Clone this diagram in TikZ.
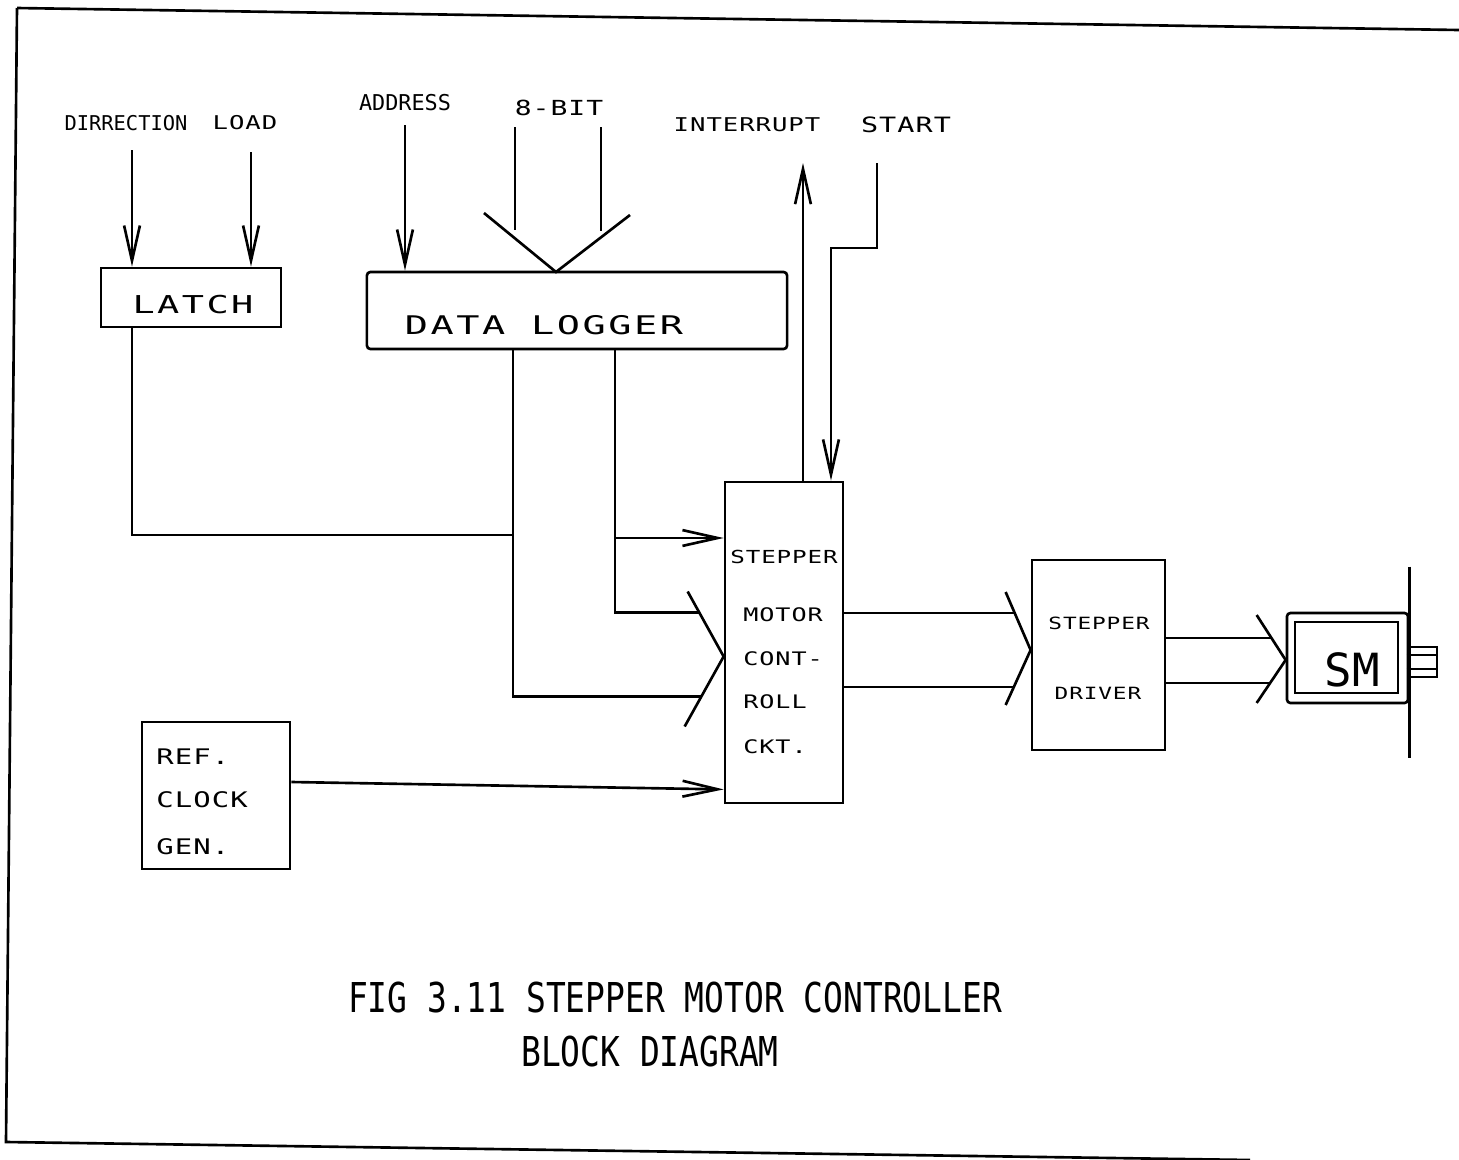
\documentclass[tikz,border=0pt]{standalone}
\usepackage{fontspec}
\usetikzlibrary{arrows.meta,positioning,calc}
\newfontfamily\plotfont{DejaVu Sans Mono}
\newfontfamily\plotwide[FakeStretch=1.35,LetterSpace=5]{DejaVu Sans Mono}
\newfontfamily\plotwider[FakeStretch=1.5,LetterSpace=10]{DejaVu Sans Mono}
\newfontfamily\plotnarrow[FakeStretch=0.8]{DejaVu Sans Mono}

\begin{document}
\begin{tikzpicture}[
    x=0.01cm, y=-0.01cm,
    line width=0.75pt,
    box/.style={draw, inner sep=0pt},
    mono/.style={inner sep=0pt, font=\plotfont\fontsize{#1}{#1}\selectfont},
    spaced/.style={inner sep=0pt, font=\plotwide\fontsize{#1}{#1}\selectfont},
    widespaced/.style={inner sep=0pt, font=\plotwider\fontsize{#1}{#1}\selectfont},
    caption/.style={inner sep=0pt, font=\plotnarrow\fontsize{#1}{#1}\selectfont},
    wire/.style={-{Straight Barb[length=10pt,width=4.5pt]}}
  ]
    \useasboundingbox (0,0) rectangle (1459,1160);
    \draw (17,8) -- (1459,30);
    \draw (17,8) -- (6,1142) -- (1250,1160);

    \node[box, minimum width=1.80cm, minimum height=0.59cm] (latch) at (191,297.5) {};
    \node[widespaced=7pt] (latchtxt) at (193,305) {LATCH};
    \node[box, rounded corners=1pt, minimum width=4.20cm, minimum height=0.77cm] (logger) at (577,310.5) {};
    \node[widespaced=7.3pt] (loggertxt) at (544,325) {DATA LOGGER};
    \node[box, minimum width=1.18cm, minimum height=3.21cm] (smc) at (784,642.5) {};
    \node[spaced=5.1pt, anchor=west] (smc1) at (729,557) {STEPPER};
    \node[spaced=5.3pt, anchor=west] (smc2) at (742,615) {MOTOR};
    \node[spaced=5.3pt, anchor=west] (smc3) at (742,659) {CONT-};
    \node[spaced=5.3pt, anchor=west] (smc4) at (742,702) {ROLL};
    \node[spaced=5.3pt, anchor=west] (smc5) at (742,747) {CKT.};
    \node[box, minimum width=1.48cm, minimum height=1.47cm] (refclk) at (216,795.5) {};
    \node[spaced=6.1pt, anchor=west] (ref1) at (155,757) {REF.};
    \node[spaced=6.1pt, anchor=west] (ref2) at (155,800) {CLOCK};
    \node[spaced=6.1pt, anchor=west] (ref3) at (155,847) {GEN.};
    \node[box, minimum width=1.33cm, minimum height=1.90cm] (driver) at (1098.5,655) {};
    \node[spaced=4.8pt] (drv1) at (1099,623) {STEPPER};
    \node[spaced=4.8pt] (drv2) at (1098,693) {DRIVER};
    \node[box, rounded corners=1pt, minimum width=1.21cm, minimum height=0.90cm] (smout) at (1347.5,658) {};
    \node[box, minimum width=1.03cm, minimum height=0.71cm] (smin) at (1346.5,657.5) {};
    \node[mono=13pt] (smtxt) at (1352,670) {SM};
    \node[box, minimum width=0.29cm, minimum height=0.30cm] (shaft) at (1422.5,662) {};

    \node[mono=5.8pt] (dirlbl) at (126,123) {DIRRECTION};
    \node[spaced=5.4pt] (loadlbl) at (245,123) {LOAD};
    \node[mono=6.2pt] (addrlbl) at (405,103) {ADDRESS};
    \node[spaced=5.9pt] (bitlbl) at (559,108) {8-BIT};
    \node[spaced=5.4pt] (intlbl) at (747,125) {INTERRUPT};
    \node[spaced=6pt] (startlbl) at (906,125) {START};

    \coordinate (dirin) at (132,150);
    \coordinate (loadin) at (251,152);
    \coordinate (addrin) at (405,125);
    \coordinate (bitA) at (515,127);
    \coordinate (bitB) at (601,127);
    \coordinate (bittip) at (556,272);
    \coordinate (intout) at (803,163);
    \coordinate (startin) at (877,163);
    \coordinate (tapA) at (513,535);
    \coordinate (tapB) at (615,538);
    \coordinate (smcbus) at ($(smc.west)+(0,14)$);
    \coordinate (drvbus) at ($(driver.west)+(0,-5)$);
    \coordinate (smbus) at ($(smout.west)+(0,2)$);

    \draw[wire] (dirin) -- (dirin |- latch.north);
    \draw[wire] (loadin) -- (loadin |- latch.north);
    \draw[wire] (addrin) -- (addrin |- logger.north);
    \draw (bitA) -- ++(0,103);
    \draw (bitB) -- ++(0,104);
    \draw (484,213) -- (bittip) -- (630,215);
    \draw[wire] (smc.north -| intout) -- (intout);
    \draw[wire] (startin) -- ++(0,85) -| ($(smc.north)+(47,0)$);

    \draw (latch.south -| dirin) |- (tapA);
    \draw (logger.south -| tapA) |- ($(smcbus)+(-23,40)$);
    \draw (logger.south -| tapB) |- ($(smcbus)+(-24,-44)$);
    \draw[wire] (tapB) -- (tapB -| smc.west);
    \draw ($(smcbus)+(-36,-65)$) -- (smcbus) -- ++(-39,70);
    \draw[wire] ($(refclk.east)+(0,-13.5)$) -- ($(smc.south west)+(0,-15)$);

    \draw ($(smc.east)+(0,-29.5)$) -- ($(drvbus)+(-16,-37)$);
    \draw ($(smc.east)+(0,44.5)$) -- ($(drvbus)+(-17,37)$);
    \draw ($(drvbus)+(-25,-58)$) -- (drvbus) -- ++(-25,55);

    \draw ($(driver.east)+(0,-17)$) -- ($(smbus)+(-14,-22)$);
    \draw ($(driver.east)+(0,28)$) -- ($(smbus)+(-15.5,23)$);
    \draw ($(smbus)+(-29,-45)$) -- (smbus) -- ++(-29,43);

    \draw ($(smout.north east)+(0,-45)$) -- ($(smout.south east)+(0,54)$);
    \draw ($(shaft.west)+(0,-7)$) -- ($(shaft.east)+(0,-7)$);
    \draw ($(shaft.west)+(0,7)$) -- ($(shaft.east)+(0,7)$);

    \node[caption=11.7pt] (cap1) at (675,998) {FIG 3.11 STEPPER MOTOR CONTROLLER};
    \node[caption=11.7pt] (cap2) at (650,1052) {BLOCK DIAGRAM};
  \end{tikzpicture}
\end{document}
